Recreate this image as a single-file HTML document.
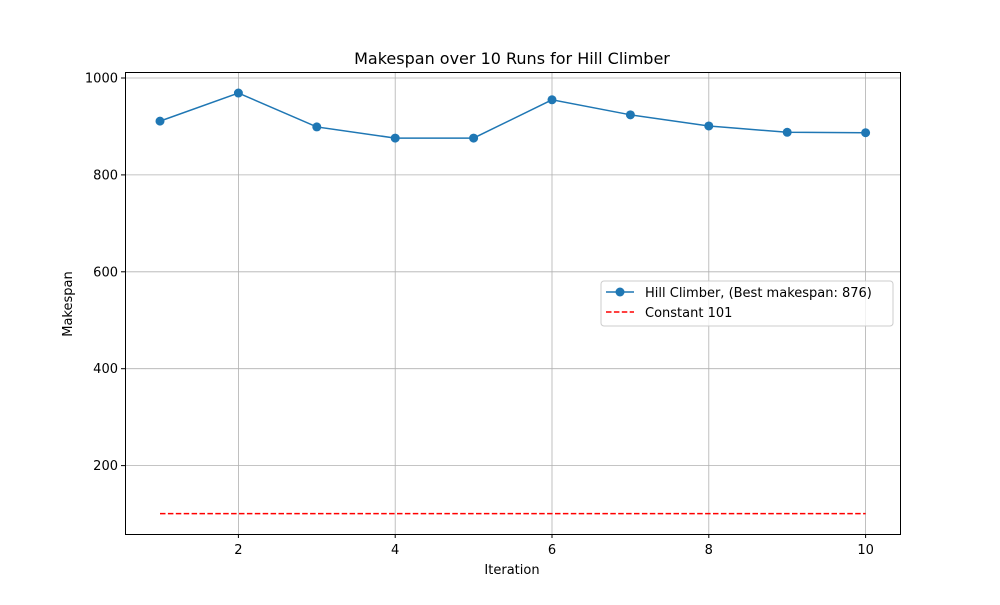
<!DOCTYPE html>
<html><head><meta charset="utf-8"><style>
body{margin:0;background:#fff;font-family:"Liberation Sans","DejaVu Sans",sans-serif;}
</style></head><body>
<svg width="1000" height="600" xmlns="http://www.w3.org/2000/svg" font-family="DejaVu Sans, Liberation Sans, sans-serif">
<g id="grid"></g>
<g id="series"></g>
<rect x="125.5" y="72.5" width="775" height="462" fill="none" stroke="#000" stroke-width="1"/>
<g id="ticks" font-size="13"></g>
<text x="512" y="64" text-anchor="middle" font-size="16">Makespan over 10 Runs for Hill Climber</text>
<text x="512" y="574" text-anchor="middle" font-size="13">Iteration</text>
<text x="72" y="304" text-anchor="middle" font-size="13" transform="rotate(-90 72 304)">Makespan</text>
<g>
<rect x="601" y="281" width="292" height="45" rx="3" fill="#fff" fill-opacity="0.8" stroke="#ccc"/>
<g>
<line x1="606" y1="292" x2="634" y2="292" stroke="#1f77b4" stroke-width="1.5"/>
<circle cx="620" cy="292" r="4.5" fill="#1f77b4"/>
<text x="645" y="297" font-size="13">Hill Climber, (Best makespan: 876)</text></g>
<g>
<line x1="606" y1="312" x2="634" y2="312" stroke="#f00" stroke-width="1.5" stroke-dasharray="5.5,2.4"/>
<text x="645" y="317" font-size="13">Constant 101</text></g>
</g>
</svg>
<script>
const iterations=[1,2,3,4,5,6,7,8,9,10];
const makespans=[911,969,899,876,876,955,924,901,888,887];
const constantValue=101;
const xTicks=[2,4,6,8,10];
const yTicks=[200,400,600,800,1000];
const X=v=>160+(v-1)*78.4;
const Y=v=>78+(1000-v)*0.4845;
const NS="http://www.w3.org/2000/svg";
function mk(t,a,p){const e=document.createElementNS(NS,t);for(const k in a)e.setAttribute(k,a[k]);p.appendChild(e);return e;}
const grid=document.getElementById('grid'),ticks=document.getElementById('ticks'),series=document.getElementById('series');
xTicks.forEach(v=>{const x=X(v);
const g=mk('line',{x1:x,x2:x,y1:72,y2:534,stroke:'#b0b0b0','stroke-width':0.8},grid);

mk('line',{x1:x,x2:x,y1:534,y2:538,stroke:'#000'},ticks);
const t=mk('text',{x:x,y:554,'text-anchor':'middle'},ticks);t.textContent=v;
});
yTicks.forEach(v=>{const y=Y(v);
const g=mk('line',{x1:125,x2:900,y1:y,y2:y,stroke:'#b0b0b0','stroke-width':0.8},grid);

mk('line',{x1:121,x2:125,y1:y,y2:y,stroke:'#000'},ticks);
const t=mk('text',{x:118,y:y+4.5,'text-anchor':'end'},ticks);t.textContent=v;
});
const c=mk('line',{x1:X(iterations[0]),x2:X(iterations[iterations.length-1]),y1:Y(constantValue),y2:Y(constantValue),stroke:'#f00','stroke-width':1.5,'stroke-dasharray':'5.5,2.4'},series);

const pl=mk('polyline',{points:iterations.map((v,i)=>X(v)+','+Y(makespans[i])).join(' '),fill:'none',stroke:'#1f77b4','stroke-width':1.5},series);

iterations.forEach((v,i)=>{const p=mk('circle',{cx:X(v),cy:Y(makespans[i]),r:4.5,fill:'#1f77b4'},series);
});
</script>
</body></html>
